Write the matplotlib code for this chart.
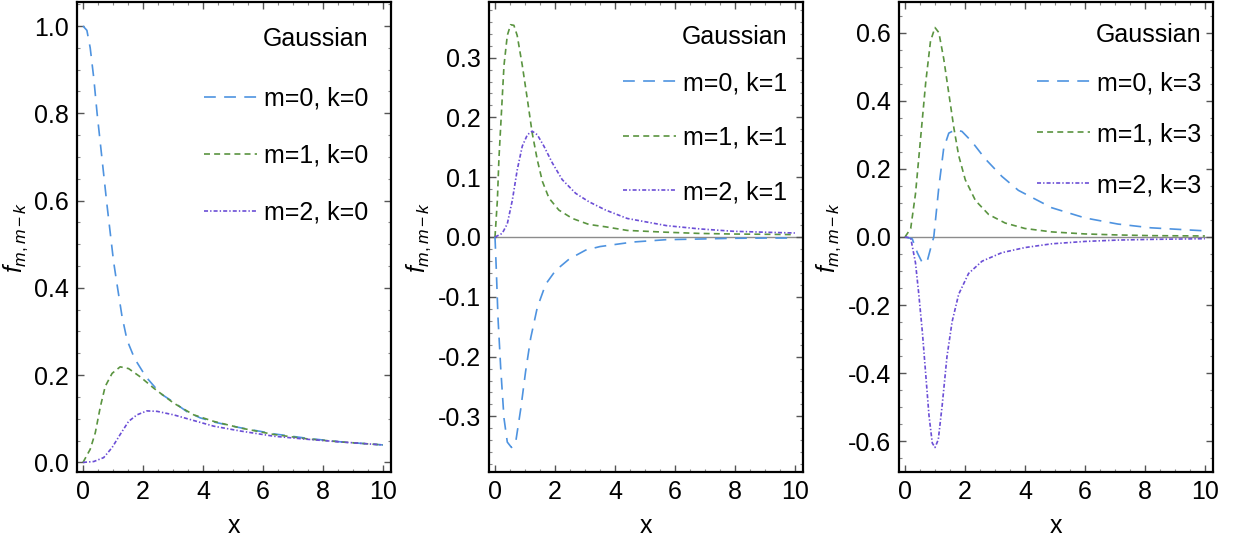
import numpy as np
import matplotlib
matplotlib.use("Agg")
import matplotlib.pyplot as plt
from matplotlib.ticker import MultipleLocator, FormatStrFormatter

plt.rcParams['font.family'] = ['Liberation Sans', 'DejaVu Sans']
plt.rcParams['mathtext.fontset'] = 'custom'
plt.rcParams['mathtext.rm'] = 'Liberation Sans'
plt.rcParams['mathtext.it'] = 'Liberation Sans:italic'
plt.rcParams['lines.scale_dashes'] = False

# ---- data ----
# panel 1 (k=0)
x1_m0 = [0, 0.13, 0.24, 0.36, 0.47, 0.58, 0.69, 0.8, 0.91, 1.02, 1.13, 1.3, 1.47, 1.72,
         2.1, 2.58, 3.02, 3.47, 3.91, 4.4, 5.2, 6.4, 7.5, 8.6, 10]
y1_m0 = [1.0, 0.99, 0.95, 0.88, 0.80, 0.73, 0.66, 0.59, 0.525, 0.46, 0.41, 0.335, 0.28, 0.238,
         0.196, 0.158, 0.138, 0.116, 0.102, 0.092, 0.08, 0.065, 0.055, 0.047, 0.040]
x1_m1 = [0, 0.24, 0.41, 0.58, 0.74, 0.97, 1.24, 1.52, 1.91, 2.36, 3.02, 3.69, 4.36,
         5.24, 6.36, 7.47, 8.58, 10]
y1_m1 = [0, 0.03, 0.068, 0.128, 0.174, 0.204, 0.219, 0.215, 0.196, 0.17, 0.136, 0.109, 0.094,
         0.079, 0.064, 0.054, 0.047, 0.040]
x1_m2 = [0, 0.36, 0.69, 0.97, 1.24, 1.52, 1.8, 2.13, 2.47, 3.02, 3.69, 4.36, 5.24,
         6.36, 7.47, 8.58, 10]
y1_m2 = [0, 0.002, 0.011, 0.034, 0.064, 0.094, 0.109, 0.118, 0.117, 0.109, 0.096, 0.083, 0.072,
         0.06, 0.053, 0.047, 0.040]

# panel 2 (k=1)
x2_m0 = [0, 0.04, 0.1, 0.19, 0.3, 0.41, 0.55, 0.69, 0.86, 1.02, 1.19, 1.41, 1.69, 2.02,
         2.47, 3.02, 3.5, 4.6, 5.7, 6.8, 7.9, 9.1, 10]
y2_m0 = [0, -0.05, -0.135, -0.219, -0.303, -0.343, -0.352, -0.343, -0.287, -0.225, -0.169,
         -0.118, -0.079, -0.056, -0.037, -0.022, -0.016, -0.0084, -0.0045, -0.0034, -0.0022,
         -0.0017, -0.0017]
x2_m1 = [0, 0.08, 0.13, 0.22, 0.3, 0.41, 0.52, 0.63, 0.74, 0.91, 1.08, 1.24, 1.41, 1.58,
         1.8, 2.13, 2.58, 3.13, 3.69, 4.41, 5.7, 6.8, 7.9, 9.1, 10]
y2_m1 = [0, 0.062, 0.13, 0.213, 0.287, 0.337, 0.355, 0.354, 0.337, 0.287, 0.23, 0.174, 0.129,
         0.093, 0.065, 0.045, 0.031, 0.021, 0.017, 0.011, 0.008, 0.006, 0.005, 0.0045, 0.004]
x2_m2 = [0, 0.24, 0.41, 0.58, 0.74, 0.91, 1.08, 1.24, 1.41, 1.63, 1.91, 2.24, 2.69, 3.13,
         3.69, 4.41, 5.72, 6.83, 7.94, 9.06, 10]
y2_m2 = [0, 0.006, 0.022, 0.062, 0.112, 0.152, 0.171, 0.177, 0.171, 0.152, 0.124, 0.096, 0.073,
         0.059, 0.045, 0.031, 0.019, 0.0135, 0.0096, 0.0079, 0.0067]

# panel 3 (k=3)
x3_m0 = [0, 0.24, 0.41, 0.58, 0.74, 0.91, 0.96, 1.13, 1.29, 1.46, 1.68, 1.9, 2.23, 2.68,
         3.23, 3.78, 4.89, 6.0, 7.1, 8.2, 10]
y3_m0 = [0, -0.005, -0.046, -0.076, -0.071, -0.015, 0, 0.148, 0.26, 0.305, 0.315, 0.31, 0.28,
         0.229, 0.178, 0.137, 0.086, 0.056, 0.038, 0.027, 0.018]
x3_m1 = [0, 0.19, 0.35, 0.52, 0.69, 0.85, 1.0, 1.13, 1.29, 1.46, 1.63, 1.79, 2.01, 2.35,
         2.79, 3.34, 4.0, 4.89, 6.0, 7.1, 8.2, 10]
y3_m1 = [0, 0.025, 0.127, 0.29, 0.453, 0.575, 0.615, 0.6, 0.524, 0.422, 0.32, 0.239, 0.168,
         0.107, 0.066, 0.041, 0.025, 0.015, 0.009, 0.006, 0.004, 0.003]
x3_m2 = [0, 0.19, 0.35, 0.46, 0.58, 0.69, 0.8, 0.91, 1.0, 1.11, 1.24, 1.4, 1.57, 1.79,
         2.12, 2.57, 3.23, 4.0, 4.89, 6.0, 7.1, 8.2, 10]
y3_m2 = [0, -0.003, -0.076, -0.168, -0.28, -0.402, -0.524, -0.605, -0.618, -0.595, -0.494,
         -0.351, -0.249, -0.168, -0.107, -0.071, -0.046, -0.031, -0.02, -0.013, -0.009,
         -0.007, -0.005]

panels = [
    dict(k=0, curves=[(x1_m0, y1_m0), (x1_m1, y1_m1), (x1_m2, y1_m2)],
         ylim=(-0.022, 1.055), ymajor=0.2, yminor=0.05, zero=False,
         title_xy=(0.927, 0.921), leg_xy=(0.927, 0.82), spacing=1.32),
    dict(k=1, curves=[(x2_m0, y2_m0), (x2_m1, y2_m1), (x2_m2, y2_m2)],
         ylim=(-0.393, 0.393), ymajor=0.1, yminor=0.02, zero=True,
         title_xy=(0.949, 0.926), leg_xy=(0.949, 0.853), spacing=1.22),
    dict(k=3, curves=[(x3_m0, y3_m0), (x3_m1, y3_m1), (x3_m2, y3_m2)],
         ylim=(-0.69, 0.69), ymajor=0.2, yminor=0.05, zero=True,
         title_xy=(0.962, 0.930), leg_xy=(0.962, 0.853), spacing=1.08),
]

colors = ['#4e93e0', '#5a9440', '#6b4ed6']
dashes = [(8.5, 6), (4.3, 3.0), (2.9, 1.5, 1.0, 1.5)]

fig = plt.figure(figsize=(12.34, 5.47), dpi=100)
lefts = [77, 489, 899]
W, H = 1234, 547
for p, left in zip(panels, lefts):
    ax = fig.add_axes([left / W, 1 - 472 / H, 314 / W, 470 / H])
    if p['zero']:
        ax.axhline(0, color='#8c8c8c', lw=1.0, zorder=1)
    for m, ((xs, ys), c, d) in enumerate(zip(p['curves'], colors, dashes)):
        line, = ax.plot(xs, ys, color=c, lw=1.2, label=f"m={m}, k={p['k']}", zorder=3)
        line.set_dashes(d)
    ax.set_xlim(-0.2, 10.27)
    ax.set_ylim(*p['ylim'])
    ax.xaxis.set_major_locator(MultipleLocator(2))
    ax.xaxis.set_minor_locator(MultipleLocator(0.5))
    ax.yaxis.set_major_locator(MultipleLocator(p['ymajor']))
    ax.yaxis.set_minor_locator(MultipleLocator(p['yminor']))
    ax.yaxis.set_major_formatter(FormatStrFormatter('%.1f'))
    ax.tick_params(which='both', direction='in', top=True, right=True, labelsize=18)
    ax.tick_params(which='major', length=5, width=1.0, color='#555555', pad=6)
    ax.tick_params(which='minor', length=2.5, width=0.8, color='#888888')
    for s in ax.spines.values():
        s.set_linewidth(1.6)
    ax.set_xlabel('x', fontsize=18, labelpad=7)
    ax.set_ylabel(r'$f_{m,m-k}$', fontsize=18, labelpad=3)
    ax.text(*p['title_xy'], 'Gaussian', transform=ax.transAxes, ha='right', va='center',
            fontsize=18)
    ax.legend(loc='upper right', bbox_to_anchor=p['leg_xy'], frameon=False, fontsize=18,
              handlelength=2.1, handletextpad=0.28, labelspacing=p['spacing'],
              borderaxespad=0, borderpad=0)

fig.savefig('out.png', dpi=100)
